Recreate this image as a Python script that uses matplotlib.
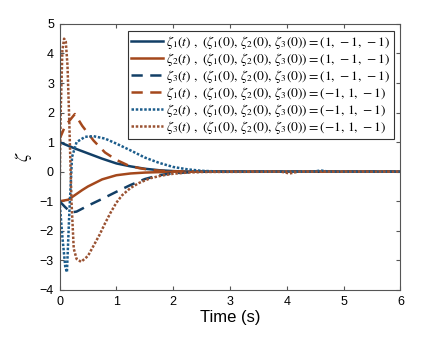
import matplotlib
matplotlib.use("Agg")
from matplotlib import pyplot as plt

# colours
blue = "#123f66"
orange = "#a4481c"

# case 1: (1, -1, -1)
t1 = [0, 0.25, 0.5, 0.75, 1.0, 1.25, 1.5, 1.75, 2.0, 2.25, 2.5, 6]
z1 = [1.0, 0.8, 0.62, 0.44, 0.28, 0.18, 0.1, 0.05, 0.02, 0.005, 0, 0]

t2 = [0, 0.15, 0.25, 0.4, 0.5, 0.75, 1.0, 1.25, 1.5, 2.0, 6]
z2 = [-1.0, -0.95, -0.82, -0.62, -0.5, -0.26, -0.12, -0.06, -0.03, 0, 0]

t3 = [0, 0.1, 0.2, 0.3, 0.5, 0.75, 1.0, 1.25, 1.5, 1.75, 2.0, 2.5, 6]
z3 = [-1.0, -1.2, -1.38, -1.35, -1.15, -0.92, -0.68, -0.45, -0.25, -0.12, -0.05, 0, 0]

# case 2: (-1, 1, -1)
t4 = [0, 0.1, 0.27, 0.4, 0.6, 0.8, 1.0, 1.2, 1.4, 1.6, 1.8, 2.0, 2.5, 6]
z4 = [1.1, 1.55, 1.95, 1.55, 1.05, 0.65, 0.4, 0.22, 0.12, 0.06, 0.03, 0.01, 0, 0]

t5 = [0, 0.05, 0.1, 0.13, 0.17, 0.22, 0.3, 0.45, 0.6, 0.8, 1.0, 1.25, 1.5,
      1.75, 2.0, 2.25, 2.5, 2.75, 3.0, 4.45, 4.6, 4.75, 6]
z5 = [-1.0, -2.2, -3.2, -3.4, -1.5, 0.5, 1.0, 1.18, 1.2, 1.12, 0.95, 0.72, 0.48,
      0.3, 0.16, 0.08, 0.03, 0.01, 0, 0, 0.04, 0, 0]

t6 = [0, 0.02, 0.05, 0.08, 0.11, 0.14, 0.17, 0.21, 0.25, 0.3, 0.38, 0.5, 0.6, 0.7, 0.8,
      0.9, 1.0, 1.1, 1.25, 1.4, 1.6, 1.8, 2.0, 2.25, 2.5, 3.9, 4.05, 4.2, 6]
z6 = [-1.0, 2.0, 4.1, 4.5, 4.4, 3.6, 1.8, -1.0, -2.6, -2.95, -3.05, -2.85, -2.5, -2.15, -1.75,
      -1.38, -1.05, -0.8, -0.55, -0.38, -0.22, -0.13, -0.07, -0.03, -0.01, 0, -0.06, 0, 0]

labels = [
    r"$\zeta_1(t)\ ,\ (\zeta_1(0),\,\zeta_2(0),\,\zeta_3(0)) = (1,\,-1,\,-1)$",
    r"$\zeta_2(t)\ ,\ (\zeta_1(0),\,\zeta_2(0),\,\zeta_3(0)) = (1,\,-1,\,-1)$",
    r"$\zeta_3(t)\ ,\ (\zeta_1(0),\,\zeta_2(0),\,\zeta_3(0)) = (1,\,-1,\,-1)$",
    r"$\zeta_1(t)\ ,\ (\zeta_1(0),\,\zeta_2(0),\,\zeta_3(0)) = (-1,\,1,\,-1)$",
    r"$\zeta_2(t)\ ,\ (\zeta_1(0),\,\zeta_2(0),\,\zeta_3(0)) = (-1,\,1,\,-1)$",
    r"$\zeta_3(t)\ ,\ (\zeta_1(0),\,\zeta_2(0),\,\zeta_3(0)) = (-1,\,1,\,-1)$",
]

plt.rcParams["font.family"] = "Liberation Sans"
plt.rcParams["mathtext.fontset"] = "stix"

fig = plt.figure(figsize=(4.41, 3.46), dpi=100)
ax = fig.add_axes([0.135, 0.162, 0.773, 0.769])

ax.plot(t1, z1, color=blue, lw=1.8, label=labels[0])
ax.plot(t2, z2, color=orange, lw=1.8, label=labels[1])
ax.plot(t3, z3, color=blue, lw=1.8, ls=(0, (4.5, 3)), label=labels[2])
ax.plot(t4, z4, color=orange, lw=1.8, ls=(0, (4.5, 3)), label=labels[3])
ax.plot(t5, z5, color="#1c5d8c", lw=1.8, ls=(0, (1, 0.7)), label=labels[4])
ax.plot(t6, z6, color="#9a5232", lw=1.8, ls=(0, (1, 0.7)), label=labels[5])

ax.set_xlim(0, 6)
ax.set_ylim(-4, 5)
ax.set_xticks(range(0, 7))
ax.set_yticks(range(-4, 6))
ax.tick_params(direction="in", top=True, right=True, labelsize=9, length=3,
               color="#555555", pad=4)
for s in ax.spines.values():
    s.set_color("#555555")
    s.set_linewidth(0.8)

ax.set_xlabel("Time (s)", fontsize=12, labelpad=2)
ax.set_ylabel(r"$\zeta$", fontsize=13, labelpad=4)

leg = ax.legend(loc="upper right", fontsize=9.7, handlelength=2.4, handletextpad=0.2,
                labelspacing=0.0, borderpad=0.25, borderaxespad=0.5, fancybox=False,
                framealpha=1)
leg.get_frame().set_edgecolor("#333333")
leg.get_frame().set_linewidth(0.8)

plt.savefig("out.png", dpi=100)
